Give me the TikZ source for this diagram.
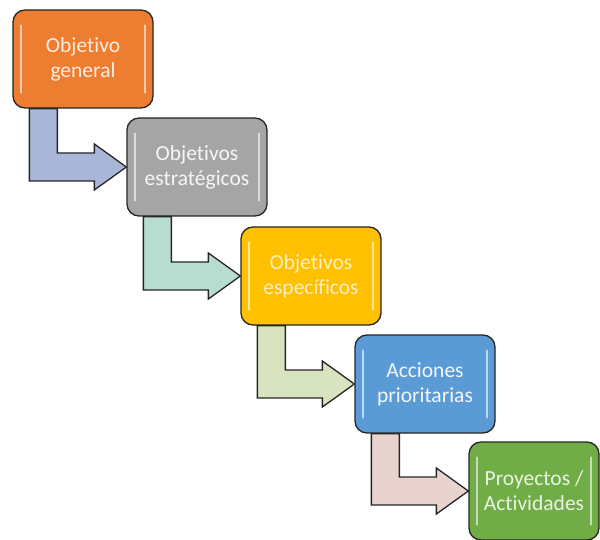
\documentclass[tikz,border=0pt]{standalone}
\usepackage{fontspec}
\setmainfont[Ligatures={NoCommon}]{Carlito}
\usetikzlibrary{calc}
\definecolor{c1}{HTML}{ED7D31}
\definecolor{c2}{HTML}{A5A5A5}
\definecolor{c3}{HTML}{FFC000}
\definecolor{c4}{HTML}{5B9BD5}
\definecolor{c5}{HTML}{70AD47}
\definecolor{a1}{HTML}{A9B6D8}
\definecolor{a2}{HTML}{B7DDD0}
\definecolor{a3}{HTML}{D8E4C0}
\definecolor{a4}{HTML}{E8D3CF}
\definecolor{edge}{HTML}{262626}
\tikzset{
  stepbox/.style={draw=edge, line width=1.3pt, rounded corners=12pt, align=center,
    minimum width=140pt, minimum height=98pt, inner sep=0pt,
    font=\fontsize{21.5}{25}\selectfont}
}
\newcommand{\bentarrow}[3]{%
  \fill[#3,draw=edge,line width=1.3pt]
    ($(#1.south west)+(17,0)$) |- ($(#2.west)+(-32,14)$) -- ($(#2.west)+(-32,23)$)
    -- (#2.west) -- ($(#2.west)+(-32,-23)$) -- ($(#2.west)+(-32,-14)$)
    -| ($(#1.south west)+(45,0)$) -- cycle;}
\newcommand{\hilite}[1]{%
  \draw[white,opacity=0.6,line width=2.2pt,line cap=round]
    ($(#1.north west)+(9,16)$) -- ($(#1.south west)+(9,-16)$);
  \draw[white,opacity=0.6,line width=2.2pt,line cap=round]
    ($(#1.north east)+(-9,16)$) -- ($(#1.south east)+(-9,-16)$);}
\begin{document}
\begin{tikzpicture}[x=1pt,y=-1pt]
\useasboundingbox (0,0) rectangle (600,540);
\node[stepbox, fill=c1, text=white!85!c1] (b1) at (83,59) {Objetivo\\general};
\node[stepbox, fill=c2, text=white!90!c2] (b2) at (197,167) {Objetivos\\estratégicos};
\node[stepbox, fill=c3, text=white!75!c3] (b3) at (311,276) {Objetivos\\específicos};
\node[stepbox, fill=c4, text=white!92!c4] (b4) at (425,384) {Acciones\\prioritarias};
\node[stepbox, fill=c5, text=white!85!c5, minimum width=130pt] (b5) at (534,491) {Proyectos /\\Actividades};
\hilite{b1}\hilite{b2}\hilite{b3}\hilite{b4}\hilite{b5}
\bentarrow{b1}{b2}{a1}
\bentarrow{b2}{b3}{a2}
\bentarrow{b3}{b4}{a3}
\bentarrow{b4}{b5}{a4}
\end{tikzpicture}
\end{document}
